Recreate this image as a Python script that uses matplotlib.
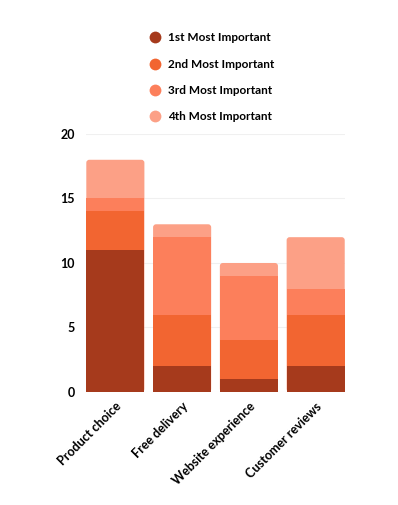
import matplotlib
matplotlib.use("Agg")
import matplotlib.pyplot as plt
from matplotlib.lines import Line2D
from matplotlib.patches import FancyBboxPatch
import numpy as np

categories = ["Product choice", "Free delivery", "Website experience", "Customer reviews"]
series_names = ["1st Most Important", "2nd Most Important", "3rd Most Important", "4th Most Important"]
first = [11, 2, 1, 2]
second = [3, 4, 3, 4]
third = [1, 6, 5, 2]
fourth = [3, 1, 1, 4]
yticks = [0, 5, 10, 15, 20]
colors = ["#A63A1C", "#F26531", "#FC7F5B", "#FCA086"]

plt.rcParams['font.family'] = ['Lato', 'DejaVu Sans']
plt.rcParams['font.weight'] = 'bold'

fig = plt.figure(figsize=(3.98, 5.05), dpi=100)
ax = fig.add_axes([0.216, 0.2238, 0.651, 0.5109])

x = np.arange(len(categories))
width = 0.87
ax.set_ylim(0, 20)
ax.set_xlim(-0.44, 3.44)

series = [first, second, third, fourth]
totals = np.sum(np.array(series), axis=0)

xpp = (3.44 + 0.44) / (0.651 * 398)
ypp = 20 / (0.5109 * 505)
for xi, tot in zip(x, totals):
    p = FancyBboxPatch((xi - width / 2, 0), width, tot,
                       boxstyle="round,pad=0,rounding_size=%f" % (3 * xpp),
                       mutation_aspect=ypp / xpp,
                       facecolor=colors[3], edgecolor='none', zorder=2)
    ax.add_patch(p)

bottom = np.zeros(len(categories))
for vals, c in zip(series[:3], colors[:3]):
    ax.bar(x, vals, bottom=bottom, width=width, color=c, edgecolor='none', zorder=3)
    bottom += np.array(vals)

ax.set_yticks(yticks)
ax.set_yticklabels([str(v) for v in yticks], fontsize=9, fontweight='bold')
ax.yaxis.grid(True, color='#f0f0f0', linewidth=0.8, zorder=0)
ax.set_axisbelow(True)
ax.tick_params(axis='both', length=0, pad=8)
ax.set_xticks(x)
ax.set_xticklabels(categories, rotation=45, ha='right', rotation_mode='anchor',
                   fontsize=9, fontweight='bold')
ax.tick_params(axis='x', pad=6)
for s in ax.spines.values():
    s.set_visible(False)

handles = [Line2D([0], [0], marker='o', linestyle='none', markersize=8.5,
                  markerfacecolor=c, markeredgecolor='none') for c in colors]
fig.legend(handles, series_names, loc='upper left', bbox_to_anchor=(0.332, 0.957),
           frameon=False, labelspacing=1.3, handletextpad=0.1,
           prop={'weight': 'bold', 'size': 8.5})

fig.savefig("out.png", dpi=100)
